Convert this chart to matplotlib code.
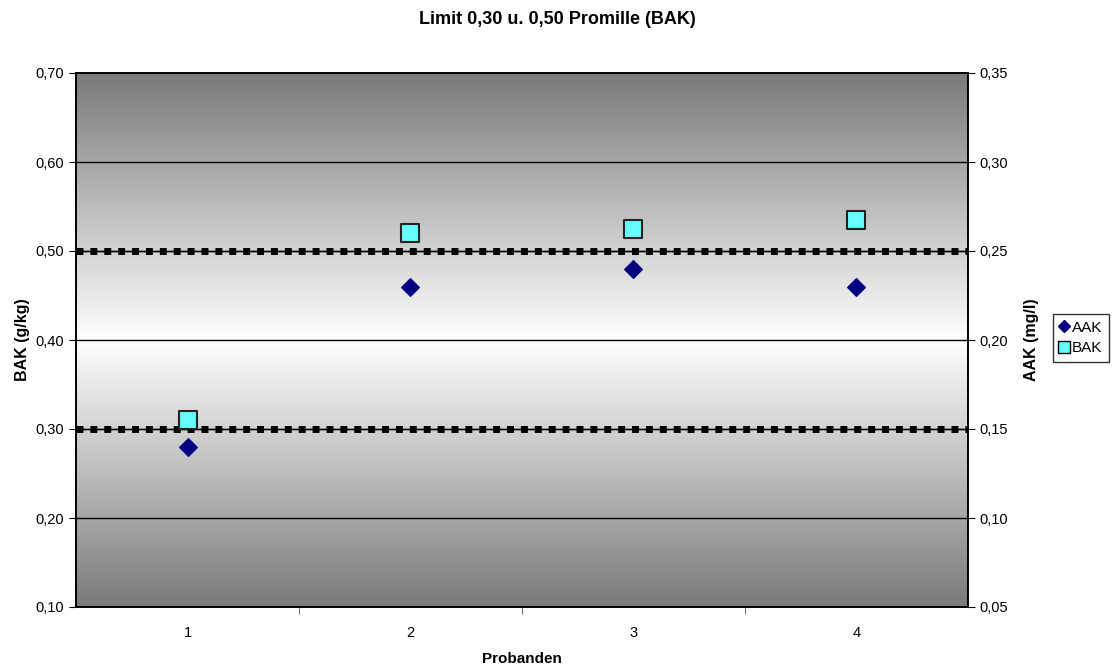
import matplotlib
matplotlib.use("Agg")
import matplotlib.pyplot as plt
import numpy as np
from matplotlib.colors import LinearSegmentedColormap
from matplotlib.lines import Line2D

plt.rcParams['font.family'] = ['Liberation Sans', 'DejaVu Sans']

probanden = [1, 2, 3, 4]
aak = [0.14, 0.23, 0.24, 0.23]      # mg/l, right axis
bak = [0.31, 0.52, 0.525, 0.535]    # g/kg, left axis
limits = [0.30, 0.50]
left_ticks = [0.10, 0.20, 0.30, 0.40, 0.50, 0.60, 0.70]
right_ticks = [0.05, 0.10, 0.15, 0.20, 0.25, 0.30, 0.35]

fig = plt.figure(figsize=(11.14, 6.68), dpi=100)
ax = fig.add_axes([76/1114, 1-607/668, 892/1114, 534/668])

# gradient background: dark at top/bottom, white at 0.40
cmap = LinearSegmentedColormap.from_list('g', [(0, '#7a7a7a'), (0.5, '#ffffff'), (1, '#7a7a7a')])
grad = np.linspace(0, 1, 256).reshape(-1, 1)
ax.imshow(grad, extent=[0.5, 4.5, 0.10, 0.70], aspect='auto', cmap=cmap, origin='lower', zorder=0)

ax.set_xlim(0.5, 4.5)
ax.set_ylim(0.10, 0.70)
ax.set_yticks(left_ticks)
ax.set_yticklabels([f"{v:.2f}".replace('.', ',') for v in left_ticks])
for v in left_ticks[1:-1]:
    ax.axhline(v, color='black', lw=1, zorder=1)

for v in limits:
    ax.axhline(v, color='black', lw=1, zorder=2)
    ax.plot([0.5, 4.5], [v, v], color='black', lw=5, linestyle=(0, (1, 1)), zorder=2,
            solid_capstyle='butt', dash_capstyle='butt')

ax.set_xticks(probanden)
ax.set_xticklabels([str(p) for p in probanden])
ax.set_xticks([1.5, 2.5, 3.5], minor=True)
ax.tick_params(axis='x', which='major', length=0, pad=14)
ax.tick_params(axis='x', which='minor', length=5, direction='out', color='#555555')
ax.tick_params(axis='y', length=5, direction='out', labelsize=10.5)
ax.tick_params(axis='x', labelsize=10.5)

ax.scatter(probanden, bak, marker='s', s=150, c='#66ffff', edgecolors='#222222', linewidths=1.5, zorder=5)

ax2 = ax.twinx()
ax2.set_ylim(0.05, 0.35)
ax2.set_yticks(right_ticks)
ax2.set_yticklabels([f"{v:.2f}".replace('.', ',') for v in right_ticks])
ax2.tick_params(axis='y', length=5, direction='out', labelsize=10.5)
ax2.scatter(probanden, aak, marker='D', s=80, c='#000080', edgecolors='#000080', zorder=5)

for a in (ax, ax2):
    for s in a.spines.values():
        s.set_linewidth(1.2)
        s.set_color('black')

ax.set_xlabel('Probanden', fontsize=11, fontweight='bold', labelpad=8)
ax.set_ylabel('BAK (g/kg)', fontsize=11.5, fontweight='bold', labelpad=4)
ax2.set_ylabel('AAK (mg/l)', fontsize=11.5, fontweight='bold', labelpad=11)

fig.text(0.5, 1-20/668, 'Limit 0,30 u. 0,50 Promille (BAK)', ha='center', va='center',
         fontsize=13, fontweight='bold')

handles = [Line2D([], [], marker='D', color='none', markerfacecolor='#000080', markeredgecolor='#000080', markersize=6),
           Line2D([], [], marker='s', color='none', markerfacecolor='#66ffff', markeredgecolor='black', markersize=8)]
leg = fig.legend(handles, ['AAK', 'BAK'], loc='center left', bbox_to_anchor=(1053/1114, 1-338/668),
                 frameon=True, fancybox=False, edgecolor='black', fontsize=11,
                 handlelength=0.6, handletextpad=0.2, borderpad=0.45, labelspacing=0.45, borderaxespad=0)
leg.get_frame().set_linewidth(1)

fig.savefig('out.png', dpi=100)
